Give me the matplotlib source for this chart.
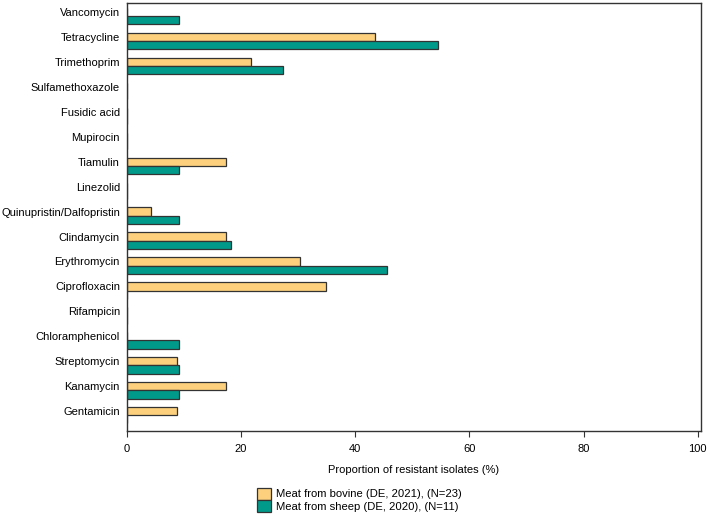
import matplotlib.pyplot as plt
import numpy as np

plt.rcParams['font.family'] = ['Liberation Sans', 'DejaVu Sans']

# antimicrobials, top to bottom
drugs = ['Vancomycin', 'Tetracycline', 'Trimethoprim', 'Sulfamethoxazole',
         'Fusidic acid', 'Mupirocin', 'Tiamulin', 'Linezolid',
         'Quinupristin/Dalfopristin', 'Clindamycin', 'Erythromycin',
         'Ciprofloxacin', 'Rifampicin', 'Chloramphenicol', 'Streptomycin',
         'Kanamycin', 'Gentamicin']

# proportion resistant (%)
bovine = [0, 43.5, 21.7, 0, 0, 0, 17.4, 0, 4.3, 17.4, 30.4, 34.8, 0, 0, 8.7, 17.4, 8.7]
sheep = [9.1, 54.5, 27.3, 0, 0, 0, 9.1, 0, 9.1, 18.2, 45.5, 0, 0, 9.1, 9.1, 9.1, 0]

labels = ['Meat from bovine (DE, 2021), (N=23)', 'Meat from sheep (DE, 2020), (N=11)']
col_bov = '#FDD07E'
col_sheep = '#009A8A'

fig = plt.figure(figsize=(7.09, 5.2), dpi=100)
ax = fig.add_axes([0.179, 0.171, 0.81, 0.823])

y = np.arange(len(drugs))
h = 0.33
b1 = ax.barh(y, bovine, height=h, color=col_bov, edgecolor='#333333', linewidth=0.9, label=labels[0])
b2 = ax.barh(y + h, sheep, height=h, color=col_sheep, edgecolor='#333333', linewidth=0.9, label=labels[1])

ax.set_yticks(y)
ax.set_yticklabels(drugs, fontsize=8)
ax.tick_params(axis='y', length=0, pad=5)
ax.set_ylim(16.8, -0.36)
ax.set_xlim(0, 100.6)
ax.set_xticks([0, 20, 40, 60, 80, 100])
ax.tick_params(axis='x', labelsize=8, length=4, direction='out', color='#333333', pad=5)
ax.set_xlabel('Proportion of resistant isolates (%)', fontsize=8, labelpad=8)
for s in ax.spines.values():
    s.set_color('#333333')
    s.set_linewidth(1)

fig.legend(handles=[b1, b2], loc='upper left', bbox_to_anchor=(0.354, 0.073),
           frameon=False, fontsize=8.1, handlelength=1.25, handleheight=1.25,
           handletextpad=0.45, labelspacing=0.05, borderpad=0)

fig.savefig('out.png', dpi=100)
